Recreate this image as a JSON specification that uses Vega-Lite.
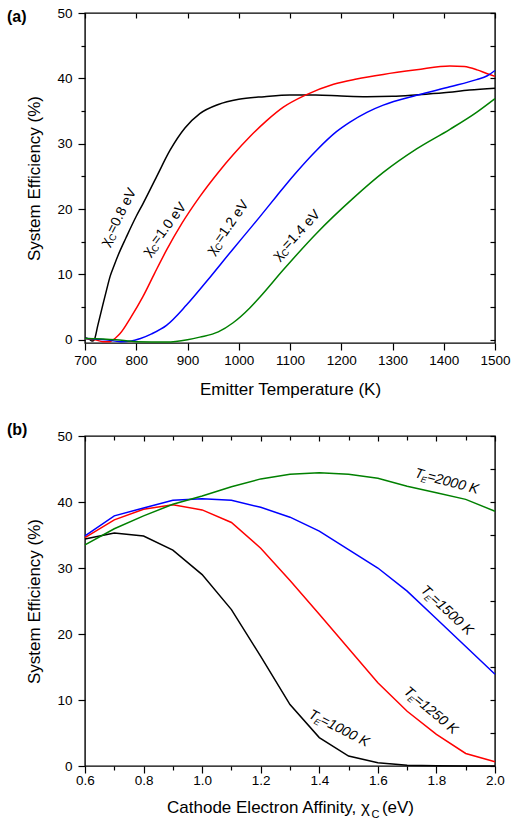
{
  "$schema": "https://vega.github.io/schema/vega-lite/v6.json",
  "padding": {"left": 6, "top": 5, "right": 5, "bottom": 5},
  "spacing": 22,
  "datasets": {
    "curvesA": [
      {"series": "0.8", "x": 700, "y": 0.3}, {"series": "0.8", "x": 708, "y": 0.1}, {"series": "0.8", "x": 714, "y": -0.2},
      {"series": "0.8", "x": 718, "y": 0.0}, {"series": "0.8", "x": 725, "y": 2.2}, {"series": "0.8", "x": 735, "y": 5.4},
      {"series": "0.8", "x": 742, "y": 7.6}, {"series": "0.8", "x": 749, "y": 9.7}, {"series": "0.8", "x": 757, "y": 11.4},
      {"series": "0.8", "x": 765, "y": 13.0}, {"series": "0.8", "x": 780, "y": 15.6}, {"series": "0.8", "x": 800, "y": 18.9},
      {"series": "0.8", "x": 813, "y": 20.8}, {"series": "0.8", "x": 840, "y": 25.0}, {"series": "0.8", "x": 866, "y": 29.0},
      {"series": "0.8", "x": 895, "y": 32.4}, {"series": "0.8", "x": 924, "y": 34.6}, {"series": "0.8", "x": 960, "y": 36.0},
      {"series": "0.8", "x": 1000, "y": 36.8}, {"series": "0.8", "x": 1050, "y": 37.2}, {"series": "0.8", "x": 1100, "y": 37.45},
      {"series": "0.8", "x": 1150, "y": 37.45}, {"series": "0.8", "x": 1200, "y": 37.3}, {"series": "0.8", "x": 1250, "y": 37.2},
      {"series": "0.8", "x": 1300, "y": 37.25}, {"series": "0.8", "x": 1350, "y": 37.5}, {"series": "0.8", "x": 1400, "y": 37.8},
      {"series": "0.8", "x": 1450, "y": 38.2}, {"series": "0.8", "x": 1500, "y": 38.5},

      {"series": "1.0", "x": 700, "y": 0.2}, {"series": "1.0", "x": 720, "y": 0.0}, {"series": "1.0", "x": 735, "y": -0.3},
      {"series": "1.0", "x": 748, "y": -0.3}, {"series": "1.0", "x": 760, "y": 0.3}, {"series": "1.0", "x": 768, "y": 0.9},
      {"series": "1.0", "x": 790, "y": 3.5}, {"series": "1.0", "x": 813, "y": 6.6}, {"series": "1.0", "x": 836, "y": 10.2},
      {"series": "1.0", "x": 859, "y": 13.7}, {"series": "1.0", "x": 889, "y": 17.8}, {"series": "1.0", "x": 924, "y": 21.9},
      {"series": "1.0", "x": 960, "y": 25.6}, {"series": "1.0", "x": 989, "y": 28.3}, {"series": "1.0", "x": 1022, "y": 31.1},
      {"series": "1.0", "x": 1054, "y": 33.5}, {"series": "1.0", "x": 1087, "y": 35.6}, {"series": "1.0", "x": 1129, "y": 37.4},
      {"series": "1.0", "x": 1185, "y": 39.1}, {"series": "1.0", "x": 1230, "y": 39.9}, {"series": "1.0", "x": 1282, "y": 40.6},
      {"series": "1.0", "x": 1347, "y": 41.3}, {"series": "1.0", "x": 1412, "y": 41.9}, {"series": "1.0", "x": 1440, "y": 41.8},
      {"series": "1.0", "x": 1465, "y": 41.3}, {"series": "1.0", "x": 1485, "y": 40.7}, {"series": "1.0", "x": 1500, "y": 40.3},

      {"series": "1.2", "x": 700, "y": 0.2}, {"series": "1.2", "x": 740, "y": 0.0}, {"series": "1.2", "x": 770, "y": -0.3},
      {"series": "1.2", "x": 790, "y": -0.2}, {"series": "1.2", "x": 807, "y": 0.15}, {"series": "1.2", "x": 830, "y": 0.9},
      {"series": "1.2", "x": 859, "y": 2.2}, {"series": "1.2", "x": 898, "y": 5.3}, {"series": "1.2", "x": 937, "y": 8.9},
      {"series": "1.2", "x": 989, "y": 13.9}, {"series": "1.2", "x": 1022, "y": 17.0}, {"series": "1.2", "x": 1041, "y": 18.8},
      {"series": "1.2", "x": 1074, "y": 22.0}, {"series": "1.2", "x": 1110, "y": 25.4}, {"series": "1.2", "x": 1152, "y": 29.0},
      {"series": "1.2", "x": 1190, "y": 31.8}, {"series": "1.2", "x": 1217, "y": 33.3}, {"series": "1.2", "x": 1250, "y": 34.8},
      {"series": "1.2", "x": 1282, "y": 35.9}, {"series": "1.2", "x": 1347, "y": 37.4}, {"series": "1.2", "x": 1412, "y": 38.7},
      {"series": "1.2", "x": 1464, "y": 39.8}, {"series": "1.2", "x": 1485, "y": 40.4}, {"series": "1.2", "x": 1500, "y": 41.2},

      {"series": "1.4", "x": 700, "y": 0.2}, {"series": "1.4", "x": 760, "y": 0.0}, {"series": "1.4", "x": 800, "y": -0.3},
      {"series": "1.4", "x": 859, "y": -0.35}, {"series": "1.4", "x": 900, "y": 0.0}, {"series": "1.4", "x": 924, "y": 0.4},
      {"series": "1.4", "x": 960, "y": 1.2}, {"series": "1.4", "x": 989, "y": 2.6}, {"series": "1.4", "x": 1022, "y": 4.9},
      {"series": "1.4", "x": 1041, "y": 6.5}, {"series": "1.4", "x": 1087, "y": 10.7}, {"series": "1.4", "x": 1152, "y": 16.3},
      {"series": "1.4", "x": 1224, "y": 21.7}, {"series": "1.4", "x": 1282, "y": 25.6}, {"series": "1.4", "x": 1347, "y": 29.2},
      {"series": "1.4", "x": 1412, "y": 32.2}, {"series": "1.4", "x": 1464, "y": 34.8}, {"series": "1.4", "x": 1500, "y": 36.9}
    ],
    "labelsA": [
      {"id": "a08", "x": 745, "y": 14.2, "rest": "=0.8 eV"},
      {"id": "a10", "x": 825, "y": 12.7, "rest": "=1.0 eV"},
      {"id": "a12", "x": 950, "y": 12.9, "rest": "=1.2 eV"},
      {"id": "a14", "x": 1077, "y": 12.1, "rest": "=1.4 eV"}
    ],
    "curvesB": [
      {"series": "1000", "x": 0.6, "y": 34.4}, {"series": "1000", "x": 0.7, "y": 35.3}, {"series": "1000", "x": 0.8, "y": 34.85},
      {"series": "1000", "x": 0.9, "y": 32.7}, {"series": "1000", "x": 1.0, "y": 29.0}, {"series": "1000", "x": 1.1, "y": 23.7},
      {"series": "1000", "x": 1.2, "y": 16.6}, {"series": "1000", "x": 1.3, "y": 9.3}, {"series": "1000", "x": 1.4, "y": 4.3},
      {"series": "1000", "x": 1.5, "y": 1.5}, {"series": "1000", "x": 1.6, "y": 0.5}, {"series": "1000", "x": 1.7, "y": 0.1},
      {"series": "1000", "x": 1.8, "y": 0.02}, {"series": "1000", "x": 1.9, "y": 0.0}, {"series": "1000", "x": 2.0, "y": 0.0},

      {"series": "1250", "x": 0.6, "y": 34.6}, {"series": "1250", "x": 0.7, "y": 37.3}, {"series": "1250", "x": 0.8, "y": 38.9},
      {"series": "1250", "x": 0.9, "y": 39.6}, {"series": "1250", "x": 1.0, "y": 38.8}, {"series": "1250", "x": 1.1, "y": 36.9},
      {"series": "1250", "x": 1.2, "y": 33.0}, {"series": "1250", "x": 1.3, "y": 28.1}, {"series": "1250", "x": 1.4, "y": 23.0},
      {"series": "1250", "x": 1.5, "y": 17.8}, {"series": "1250", "x": 1.6, "y": 12.6}, {"series": "1250", "x": 1.7, "y": 8.3},
      {"series": "1250", "x": 1.8, "y": 4.8}, {"series": "1250", "x": 1.9, "y": 1.9}, {"series": "1250", "x": 2.0, "y": 0.65},

      {"series": "1500", "x": 0.6, "y": 34.85}, {"series": "1500", "x": 0.7, "y": 37.9}, {"series": "1500", "x": 0.8, "y": 39.1},
      {"series": "1500", "x": 0.9, "y": 40.25}, {"series": "1500", "x": 1.0, "y": 40.5}, {"series": "1500", "x": 1.1, "y": 40.25},
      {"series": "1500", "x": 1.2, "y": 39.2}, {"series": "1500", "x": 1.3, "y": 37.7}, {"series": "1500", "x": 1.4, "y": 35.6},
      {"series": "1500", "x": 1.5, "y": 32.8}, {"series": "1500", "x": 1.6, "y": 30.0}, {"series": "1500", "x": 1.7, "y": 26.5},
      {"series": "1500", "x": 1.8, "y": 22.3}, {"series": "1500", "x": 1.9, "y": 18.1}, {"series": "1500", "x": 2.0, "y": 13.9},

      {"series": "2000", "x": 0.6, "y": 33.5}, {"series": "2000", "x": 0.7, "y": 35.95}, {"series": "2000", "x": 0.8, "y": 37.9},
      {"series": "2000", "x": 0.9, "y": 39.65}, {"series": "2000", "x": 1.0, "y": 40.9}, {"series": "2000", "x": 1.1, "y": 42.3},
      {"series": "2000", "x": 1.2, "y": 43.5}, {"series": "2000", "x": 1.3, "y": 44.2}, {"series": "2000", "x": 1.4, "y": 44.45},
      {"series": "2000", "x": 1.5, "y": 44.2}, {"series": "2000", "x": 1.6, "y": 43.6}, {"series": "2000", "x": 1.7, "y": 42.4},
      {"series": "2000", "x": 1.8, "y": 41.4}, {"series": "2000", "x": 1.9, "y": 40.4}, {"series": "2000", "x": 2.0, "y": 38.6}
    ],
    "labelsB": [
      {"id": "b2000", "x": 1.723, "y": 43.8, "rest": "=2000 K"},
      {"id": "b1500", "x": 1.744, "y": 26.5, "rest": "=1500 K"},
      {"id": "b1250", "x": 1.686, "y": 11.1, "rest": "=1250 K"},
      {"id": "b1000", "x": 1.361, "y": 7.4, "rest": "=1000 K"}
    ]
  },
  "vconcat": [
    {
      "width": 410,
      "height": 330,
      "title": {"text": "(a)", "anchor": "start", "frame": "bounds", "baseline": "alphabetic", "offset": 0, "dx": -19, "dy": 32},
      "resolve": {"axis": {"x": "independent", "y": "independent"}},
      "layer": [
        {
          "data": {"name": "curvesA"},
          "mark": {"type": "line", "interpolate": "monotone", "strokeWidth": 1.5},
          "encoding": {
            "x": {"field": "x", "type": "quantitative",
                  "scale": {"domain": [700, 1500], "nice": false, "zero": false},
                  "axis": {"title": "Emitter Temperature (K)", "format": "d", "values": [700, 800, 900, 1000, 1100, 1200, 1300, 1400, 1500], "tickSize": 7, "labelPadding": 3.5, "titlePadding": 14.5}},
            "y": {"field": "y", "type": "quantitative",
                  "scale": {"domain": [-0.5, 50], "nice": false, "zero": false},
                  "axis": {"title": "System Efficiency (%)", "values": [0, 5, 10, 15, 20, 25, 30, 35, 40, 45, 50],
                           "labelExpr": "datum.value % 10 === 0 ? datum.label : ''",
                           "labelPadding": 6, "titlePadding": 13,
                           "tickSize": {"condition": {"test": "datum.value % 10 === 0", "value": 7}, "value": 4}}},
            "color": {"field": "series", "type": "nominal", "legend": null,
                      "scale": {"domain": ["0.8", "1.0", "1.2", "1.4"], "range": ["#000000", "#ff0000", "#0000ff", "#008000"]}}
          }
        },
        {
          "data": {"name": "labelsA"},
          "transform": [{"filter": "datum.id === 'a08'"}],
          "encoding": {
            "x": {"field": "x", "type": "quantitative",
                  "axis": {"orient": "top", "title": null, "labels": false, "values": [700, 800, 900, 1000, 1100, 1200, 1300, 1400, 1500], "tickSize": -5}},
            "y": {"field": "y", "type": "quantitative",
                  "axis": {"orient": "right", "title": null, "labels": false, "values": [0, 5, 10, 15, 20, 25, 30, 35, 40, 45, 50], "tickSize": -5}}
          },
          "layer": [
            {"mark": {"type": "text", "text": "χ", "angle": -63, "align": "left", "baseline": "alphabetic", "fontSize": 14, "color": "#000"}},
            {"mark": {"type": "text", "text": "C", "angle": -63, "align": "left", "baseline": "alphabetic", "fontSize": 9.5, "dx": 7, "dy": 3, "color": "#000"}},
            {"mark": {"type": "text", "angle": -63, "align": "left", "baseline": "alphabetic", "fontSize": 14, "dx": 14, "color": "#000"}, "encoding": {"text": {"field": "rest"}}}
          ]
        },
        {
          "data": {"name": "labelsA"},
          "transform": [{"filter": "datum.id === 'a10'"}],
          "encoding": {"x": {"field": "x", "type": "quantitative", "axis": null}, "y": {"field": "y", "type": "quantitative", "axis": null}},
          "layer": [
            {"mark": {"type": "text", "text": "χ", "angle": -53, "align": "left", "baseline": "alphabetic", "fontSize": 14, "color": "#000"}},
            {"mark": {"type": "text", "text": "C", "angle": -53, "align": "left", "baseline": "alphabetic", "fontSize": 9.5, "dx": 7, "dy": 3, "color": "#000"}},
            {"mark": {"type": "text", "angle": -53, "align": "left", "baseline": "alphabetic", "fontSize": 14, "dx": 14, "color": "#000"}, "encoding": {"text": {"field": "rest"}}}
          ]
        },
        {
          "data": {"name": "labelsA"},
          "transform": [{"filter": "datum.id === 'a12'"}],
          "encoding": {"x": {"field": "x", "type": "quantitative", "axis": null}, "y": {"field": "y", "type": "quantitative", "axis": null}},
          "layer": [
            {"mark": {"type": "text", "text": "χ", "angle": -55, "align": "left", "baseline": "alphabetic", "fontSize": 14, "color": "#000"}},
            {"mark": {"type": "text", "text": "C", "angle": -55, "align": "left", "baseline": "alphabetic", "fontSize": 9.5, "dx": 7, "dy": 3, "color": "#000"}},
            {"mark": {"type": "text", "angle": -55, "align": "left", "baseline": "alphabetic", "fontSize": 14, "dx": 14, "color": "#000"}, "encoding": {"text": {"field": "rest"}}}
          ]
        },
        {
          "data": {"name": "labelsA"},
          "transform": [{"filter": "datum.id === 'a14'"}],
          "encoding": {"x": {"field": "x", "type": "quantitative", "axis": null}, "y": {"field": "y", "type": "quantitative", "axis": null}},
          "layer": [
            {"mark": {"type": "text", "text": "χ", "angle": -47, "align": "left", "baseline": "alphabetic", "fontSize": 14, "color": "#000"}},
            {"mark": {"type": "text", "text": "C", "angle": -47, "align": "left", "baseline": "alphabetic", "fontSize": 9.5, "dx": 7, "dy": 3, "color": "#000"}},
            {"mark": {"type": "text", "angle": -47, "align": "left", "baseline": "alphabetic", "fontSize": 14, "dx": 14, "color": "#000"}, "encoding": {"text": {"field": "rest"}}}
          ]
        }
      ]
    },
    {
      "width": 410,
      "height": 330,
      "title": {"text": "(b)", "anchor": "start", "frame": "bounds", "baseline": "alphabetic", "offset": 0, "dx": -19, "dy": 22},
      "resolve": {"axis": {"x": "independent", "y": "independent"}},
      "layer": [
        {
          "data": {"name": "curvesB"},
          "mark": {"type": "line", "strokeWidth": 1.5},
          "encoding": {
            "x": {"field": "x", "type": "quantitative",
                  "scale": {"domain": [0.6, 2.0], "nice": false, "zero": false},
                  "axis": {"title": "Cathode Electron Affinity, χ\u2002\u2009(eV)",
                           "values": [0.6, 0.7, 0.8, 0.9, 1.0, 1.1, 1.2, 1.3, 1.4, 1.5, 1.6, 1.7, 1.8, 1.9, 2.0],
                           "labelExpr": "round(datum.value * 10) % 2 === 0 ? format(datum.value, '.1f') : ''",
                           "tickSize": {"condition": {"test": "round(datum.value * 10) % 2 === 0", "value": 7}, "value": 4},
                           "labelPadding": 0, "titlePadding": 13}},
            "y": {"field": "y", "type": "quantitative",
                  "scale": {"domain": [0, 50], "nice": false},
                  "axis": {"title": "System Efficiency (%)", "values": [0, 10, 20, 30, 40, 50], "tickSize": 7, "labelPadding": 6, "titlePadding": 13}},
            "color": {"field": "series", "type": "nominal", "legend": null,
                      "scale": {"domain": ["1000", "1250", "1500", "2000"], "range": ["#000000", "#ff0000", "#0000ff", "#008000"]}}
          }
        },
        {
          "data": {"values": [{}]},
          "mark": {"type": "text", "text": "C", "fontSize": 11, "baseline": "middle", "align": "center", "dy": 49, "color": "#000"},
          "encoding": {"x": {"datum": 1.592, "type": "quantitative", "axis": null}, "y": {"datum": 0, "type": "quantitative", "axis": null}}
        },
        {
          "data": {"name": "labelsB"},
          "transform": [{"filter": "datum.id === 'b2000'"}],
          "encoding": {
            "x": {"field": "x", "type": "quantitative",
                  "axis": {"orient": "top", "title": null, "labels": false,
                           "values": [0.6, 0.7, 0.8, 0.9, 1.0, 1.1, 1.2, 1.3, 1.4, 1.5, 1.6, 1.7, 1.8, 1.9, 2.0],
                           "tickSize": {"condition": {"test": "round(datum.value * 10) % 2 === 0", "value": -5}, "value": -4}}},
            "y": {"field": "y", "type": "quantitative",
                  "axis": {"orient": "right", "title": null, "labels": false, "values": [0, 5, 10, 15, 20, 25, 30, 35, 40, 45, 50], "tickSize": -5}}
          },
          "layer": [
            {"mark": {"type": "text", "text": "T", "angle": 15, "align": "left", "baseline": "alphabetic", "fontSize": 14, "fontStyle": "italic", "color": "#000"}},
            {"mark": {"type": "text", "text": "E", "angle": 15, "align": "left", "baseline": "alphabetic", "fontSize": 8.5, "fontStyle": "italic", "dx": 7.5, "dy": 3, "color": "#000"}},
            {"mark": {"type": "text", "angle": 15, "align": "left", "baseline": "alphabetic", "fontSize": 14, "fontStyle": "italic", "dx": 13, "color": "#000"}, "encoding": {"text": {"field": "rest"}}}
          ]
        },
        {
          "data": {"name": "labelsB"},
          "transform": [{"filter": "datum.id === 'b1500'"}],
          "encoding": {"x": {"field": "x", "type": "quantitative", "axis": null}, "y": {"field": "y", "type": "quantitative", "axis": null}},
          "layer": [
            {"mark": {"type": "text", "text": "T", "angle": 43, "align": "left", "baseline": "alphabetic", "fontSize": 14, "fontStyle": "italic", "color": "#000"}},
            {"mark": {"type": "text", "text": "E", "angle": 43, "align": "left", "baseline": "alphabetic", "fontSize": 8.5, "fontStyle": "italic", "dx": 7.5, "dy": 3, "color": "#000"}},
            {"mark": {"type": "text", "angle": 43, "align": "left", "baseline": "alphabetic", "fontSize": 14, "fontStyle": "italic", "dx": 13, "color": "#000"}, "encoding": {"text": {"field": "rest"}}}
          ]
        },
        {
          "data": {"name": "labelsB"},
          "transform": [{"filter": "datum.id === 'b1250'"}],
          "encoding": {"x": {"field": "x", "type": "quantitative", "axis": null}, "y": {"field": "y", "type": "quantitative", "axis": null}},
          "layer": [
            {"mark": {"type": "text", "text": "T", "angle": 40, "align": "left", "baseline": "alphabetic", "fontSize": 14, "fontStyle": "italic", "color": "#000"}},
            {"mark": {"type": "text", "text": "E", "angle": 40, "align": "left", "baseline": "alphabetic", "fontSize": 8.5, "fontStyle": "italic", "dx": 7.5, "dy": 3, "color": "#000"}},
            {"mark": {"type": "text", "angle": 40, "align": "left", "baseline": "alphabetic", "fontSize": 14, "fontStyle": "italic", "dx": 13, "color": "#000"}, "encoding": {"text": {"field": "rest"}}}
          ]
        },
        {
          "data": {"name": "labelsB"},
          "transform": [{"filter": "datum.id === 'b1000'"}],
          "encoding": {"x": {"field": "x", "type": "quantitative", "axis": null}, "y": {"field": "y", "type": "quantitative", "axis": null}},
          "layer": [
            {"mark": {"type": "text", "text": "T", "angle": 27, "align": "left", "baseline": "alphabetic", "fontSize": 14, "fontStyle": "italic", "color": "#000"}},
            {"mark": {"type": "text", "text": "E", "angle": 27, "align": "left", "baseline": "alphabetic", "fontSize": 8.5, "fontStyle": "italic", "dx": 7.5, "dy": 3, "color": "#000"}},
            {"mark": {"type": "text", "angle": 27, "align": "left", "baseline": "alphabetic", "fontSize": 14, "fontStyle": "italic", "dx": 13, "color": "#000"}, "encoding": {"text": {"field": "rest"}}}
          ]
        }
      ]
    }
  ],
  "config": {
    "font": "Liberation Sans",
    "view": {"stroke": "#000", "strokeWidth": 1.4},
    "axis": {
      "domain": false, "grid": false,
      "labelFont": "Liberation Sans", "labelFontSize": 13.5, "labelColor": "#000",
      "labelFlush": false, "labelOverlap": false,
      "titleFont": "Liberation Sans", "titleFontSize": 17, "titleFontWeight": "normal", "titleColor": "#000",
      "tickColor": "#000", "tickWidth": 1.2
    },
    "title": {"font": "Liberation Sans", "fontSize": 16, "fontWeight": "bold", "color": "#000"},
    "text": {"font": "Liberation Sans"}
  }
}
